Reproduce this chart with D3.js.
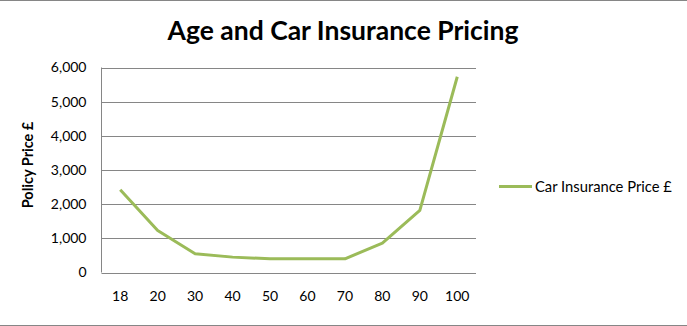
<!DOCTYPE html>
<html><head><meta charset="utf-8">
<script src="https://cdn.jsdelivr.net/npm/d3@7"></script>
<style>body{margin:0;background:#fff}svg{display:block}text{font-family:Lato,"Open Sans",sans-serif}</style>
</head><body>
<script>
const categories = ["18","20","30","40","50","60","70","80","90","100"];
const prices = [2420, 1230, 550, 450, 400, 400, 400, 860, 1820, 5730];
const yTicks = [0, 1000, 2000, 3000, 4000, 5000, 6000];
const seriesName = "Car Insurance Price £";
const titleText = "Age and Car Insurance Pricing";
const yLabel = "Policy Price £";

(function(){
const W = 687, H = 326;
const svg = d3.select("body").append("svg").attr("width", W).attr("height", H);

// outer frame lines (top and bottom)
svg.append("line").attr("x1",0).attr("x2",W).attr("y1",0.5).attr("y2",0.5).attr("stroke","#868686");
svg.append("line").attr("x1",0).attr("x2",W).attr("y1",325.5).attr("y2",325.5).attr("stroke","#868686");

const pLeft = 101.5, pRight = 476, pTop = 67.5, pBottom = 272.5;
const x = d3.scaleBand().domain(categories).range([pLeft, pRight]);
const y = d3.scaleLinear().domain([0, 6000]).range([pBottom, pTop]);

// gridlines
svg.append("g").selectAll("line").data(yTicks).join("line")
  .attr("x1", pLeft).attr("x2", pRight)
  .attr("y1", d => Math.round(y(d)) + 0.5).attr("y2", d => Math.round(y(d)) + 0.5)
  .attr("stroke", "#868686").attr("stroke-width", 1);

// y axis
const yAxis = svg.append("g").attr("transform", `translate(${pLeft},0)`)
  .call(d3.axisLeft(y).tickValues(yTicks).tickFormat(d3.format(",")).tickSize(0).tickPadding(15));
yAxis.select(".domain").attr("stroke", "#868686").attr("d", `M0,${pTop}V${pBottom}`);
yAxis.selectAll("text").attr("font-size", 14).attr("fill", "#000").attr("font-family", "Lato");

// x axis
const xAxis = svg.append("g").attr("transform", `translate(0,${pBottom})`)
  .call(d3.axisBottom(x).tickSize(0).tickPadding(19));
xAxis.select(".domain").remove();
xAxis.selectAll("text").attr("font-size", 14).attr("fill", "#000").attr("font-family", "Lato");

// line
const line = d3.line().x((d, i) => x(categories[i]) + x.bandwidth() / 2).y(d => y(d));
svg.append("path").datum(prices).attr("d", line)
  .attr("fill", "none").attr("stroke", "#9BBB59").attr("stroke-width", 3)
  .attr("stroke-linejoin", "round");

// title
const t = svg.append("text").attr("x", 343).attr("y", 40).attr("text-anchor", "middle")
  .attr("font-weight", "bold").attr("font-size", 24).attr("fill", "#000").text(titleText);
const tw = t.node().getComputedTextLength();
t.attr("font-size", 24 * 351 / tw);

// y label
svg.append("text").attr("transform", "translate(33,165) rotate(-90)")
  .attr("text-anchor", "middle").attr("font-weight", "bold").attr("font-size", 14.5).attr("fill", "#000")
  .text(yLabel);

// legend
svg.append("line").attr("x1", 499).attr("x2", 532).attr("y1", 186.5).attr("y2", 186.5)
  .attr("stroke", "#9BBB59").attr("stroke-width", 3);
const lt = svg.append("text").attr("x", 535).attr("y", 191.5).attr("font-size", 14).attr("fill", "#000").text(seriesName);
const lw = lt.node().getComputedTextLength();
lt.attr("font-size", 14 * 137 / lw);
})();
</script>
</body></html>
